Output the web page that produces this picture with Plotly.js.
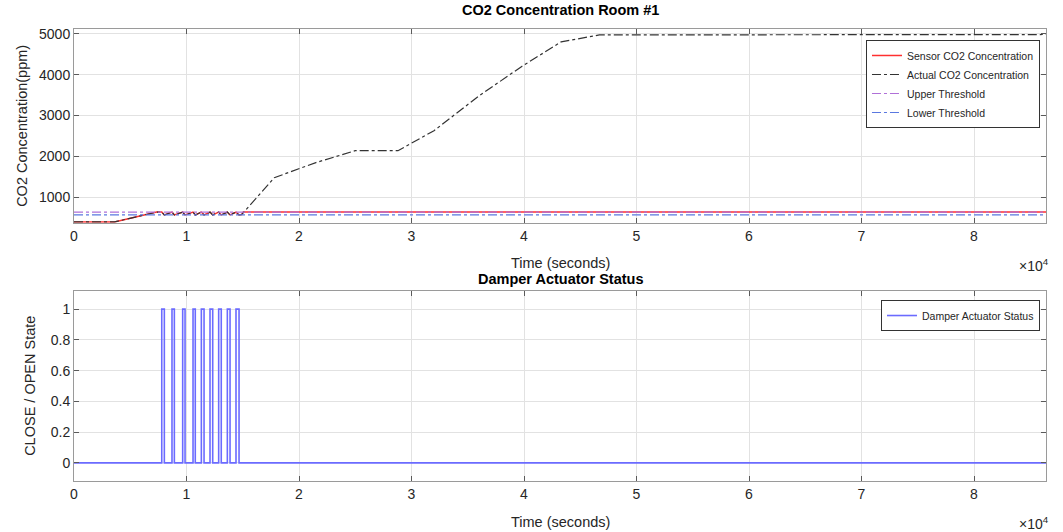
<!DOCTYPE html>
<html>
<head>
<meta charset="utf-8">
<script src="https://cdn.plot.ly/plotly-3.0.1.min.js"></script>
<style>html,body{margin:0;padding:0;background:#fff;}#chart{width:1063px;height:532px;}</style>
</head>
<body>
<div id="chart"></div>
<script>
// ---- data ----
const actualTime = [0, 3600, 7350, 7800, 8030, 8710, 8920, 9660, 9870, 10580, 10780, 11320, 11560, 12090, 12330, 12860, 13090, 13630, 13870, 14400, 14670, 14900, 17800, 21500, 25000, 28800, 32000, 36000, 39800, 43300, 46700, 86400];
const actualCO2  = [400, 400, 640, 640, 570, 640, 570, 640, 570, 640, 570, 640, 570, 640, 570, 640, 570, 640, 570, 640, 570, 580, 1480, 1850, 2140, 2140, 2630, 3480, 4200, 4800, 4970, 4980];
const sensorTime = [0, 3600, 7350, 7800, 8030, 8710, 8920, 9660, 9870, 10580, 10780, 11320, 11560, 12090, 12330, 12860, 13090, 13630, 13870, 14400, 14670, 14900, 15050, 86400];
const sensorCO2  = [400, 400, 640, 640, 570, 640, 570, 640, 570, 640, 570, 640, 570, 640, 570, 640, 570, 640, 570, 640, 570, 580, 640, 640];
const thresholdTime = [0, 86400];
const upperThreshold = [640, 640];
const lowerThreshold = [570, 570];
const damperTime  = [0, 7800, 8030, 8710, 8920, 9660, 9870, 10580, 10780, 11320, 11560, 12090, 12330, 12860, 13090, 13630, 13870, 14400, 14670, 86400];
const damperState = [0, 1, 0, 1, 0, 1, 0, 1, 0, 1, 0, 1, 0, 1, 0, 1, 0, 1, 0, 0];
const xTickVals = [0, 10000, 20000, 30000, 40000, 50000, 60000, 70000, 80000];
const xTickText = ['0', '1', '2', '3', '4', '5', '6', '7', '8'];
const co2TickVals = [1000, 2000, 3000, 4000, 5000];
const stateTickVals = [0, 0.2, 0.4, 0.6, 0.8, 1];
const stateTickText = ['0', '0.2', '0.4', '0.6', '0.8', '1'];

const FONT = 'Liberation Sans, Arial, Helvetica, sans-serif';
const TXT = '#262626';

const traces = [
  {x: sensorTime, y: sensorCO2, name: 'Sensor CO2 Concentration', mode: 'lines',
   line: {color: '#ff3030', width: 1.5}, xaxis: 'x', yaxis: 'y', legend: 'legend'},
  {x: actualTime, y: actualCO2, name: 'Actual CO2 Concentration', mode: 'lines',
   line: {color: '#333333', width: 1.2, dash: 'dashdot'}, xaxis: 'x', yaxis: 'y', legend: 'legend'},
  {x: thresholdTime, y: upperThreshold, name: 'Upper Threshold', mode: 'lines',
   line: {color: '#b070d8', width: 1.2, dash: 'dashdot'}, xaxis: 'x', yaxis: 'y', legend: 'legend'},
  {x: thresholdTime, y: lowerThreshold, name: 'Lower Threshold', mode: 'lines',
   line: {color: '#5a78e0', width: 1.2, dash: 'dashdot'}, xaxis: 'x', yaxis: 'y', legend: 'legend'},
  {x: damperTime, y: damperState, name: 'Damper Actuator Status', mode: 'lines',
   line: {color: '#6b6bff', width: 1.6, shape: 'hv'}, xaxis: 'x2', yaxis: 'y2', legend: 'legend2'}
];

const axisCommon = {
  showline: true, mirror: 'ticks', linecolor: '#9a9a9a', linewidth: 1,
  ticks: 'inside', ticklen: 5, tickcolor: '#5a5a5a',
  showgrid: true, gridcolor: '#e2e2e2', gridwidth: 1, zeroline: false,
  tickfont: {family: FONT, size: 14, color: TXT}
};

const layout = {
  width: 1063, height: 532,
  margin: {l: 74, r: 17, t: 29, b: 51},
  paper_bgcolor: '#ffffff', plot_bgcolor: '#ffffff',
  font: {family: FONT, color: TXT},
  showlegend: true,
  xaxis: Object.assign({}, axisCommon, {domain: [0, 1], anchor: 'y', range: [0, 86400],
    tickmode: 'array', tickvals: xTickVals, ticktext: xTickText}),
  yaxis: Object.assign({}, axisCommon, {domain: [0.5714, 1], anchor: 'x', range: [380, 5115],
    tickmode: 'array', tickvals: co2TickVals}),
  xaxis2: Object.assign({}, axisCommon, {domain: [0, 1], anchor: 'y2', range: [0, 86400],
    tickmode: 'array', tickvals: xTickVals, ticktext: xTickText}),
  yaxis2: Object.assign({}, axisCommon, {domain: [0, 0.421], anchor: 'x2', range: [-0.118, 1.12],
    tickmode: 'array', tickvals: stateTickVals, ticktext: stateTickText}),
  legend: {x: 0.9938, y: 0.9757, xanchor: 'right', yanchor: 'top',
    bgcolor: '#ffffff', bordercolor: '#333333', borderwidth: 1,
    font: {family: FONT, size: 10.5, color: TXT}, tracegroupgap: 0, itemwidth: 30},
  legend2: {x: 0.9938, y: 0.4004, xanchor: 'right', yanchor: 'top',
    bgcolor: '#ffffff', bordercolor: '#333333', borderwidth: 1,
    font: {family: FONT, size: 10.5, color: TXT}, itemwidth: 30},
  annotations: [
    {text: '<b>CO2 Concentration Room #1</b>', xref: 'paper', yref: 'paper', x: 0.5, y: 1, yshift: 19,
     xanchor: 'center', yanchor: 'middle', showarrow: false, font: {family: FONT, size: 14.5, color: '#000'}},
    {text: '<b>Damper Actuator Status</b>', xref: 'paper', yref: 'paper', x: 0.5, y: 0.421, yshift: 12,
     xanchor: 'center', yanchor: 'middle', showarrow: false, font: {family: FONT, size: 14.5, color: '#000'}},
    {text: 'Time (seconds)', xref: 'paper', yref: 'paper', x: 0.5, y: 0.5714, yshift: -40,
     xanchor: 'center', yanchor: 'middle', showarrow: false, font: {family: FONT, size: 14.5, color: TXT}},
    {text: 'Time (seconds)', xref: 'paper', yref: 'paper', x: 0.5, y: 0, yshift: -41,
     xanchor: 'center', yanchor: 'middle', showarrow: false, font: {family: FONT, size: 14.5, color: TXT}},
    {text: '\u00d710<sup>4</sup>', xref: 'paper', yref: 'paper', x: 1, y: 0.5714, xshift: 5, yshift: -42,
     xanchor: 'right', yanchor: 'middle', showarrow: false, font: {family: FONT, size: 14, color: TXT}},
    {text: '\u00d710<sup>4</sup>', xref: 'paper', yref: 'paper', x: 1, y: 0, xshift: 5, yshift: -42,
     xanchor: 'right', yanchor: 'middle', showarrow: false, font: {family: FONT, size: 14, color: TXT}},
    {text: 'CO2 Concentration(ppm)', xref: 'paper', yref: 'paper', x: 0, y: 0.7857, xshift: -52,
     xanchor: 'center', yanchor: 'middle', textangle: -90, showarrow: false, font: {family: FONT, size: 14.5, color: TXT}},
    {text: 'CLOSE / OPEN State', xref: 'paper', yref: 'paper', x: 0, y: 0.2105, xshift: -44,
     xanchor: 'center', yanchor: 'middle', textangle: -90, showarrow: false, font: {family: FONT, size: 14.5, color: TXT}}
  ]
};

Plotly.newPlot('chart', traces, layout, {displayModeBar: false, staticPlot: true});
</script>
</body>
</html>
